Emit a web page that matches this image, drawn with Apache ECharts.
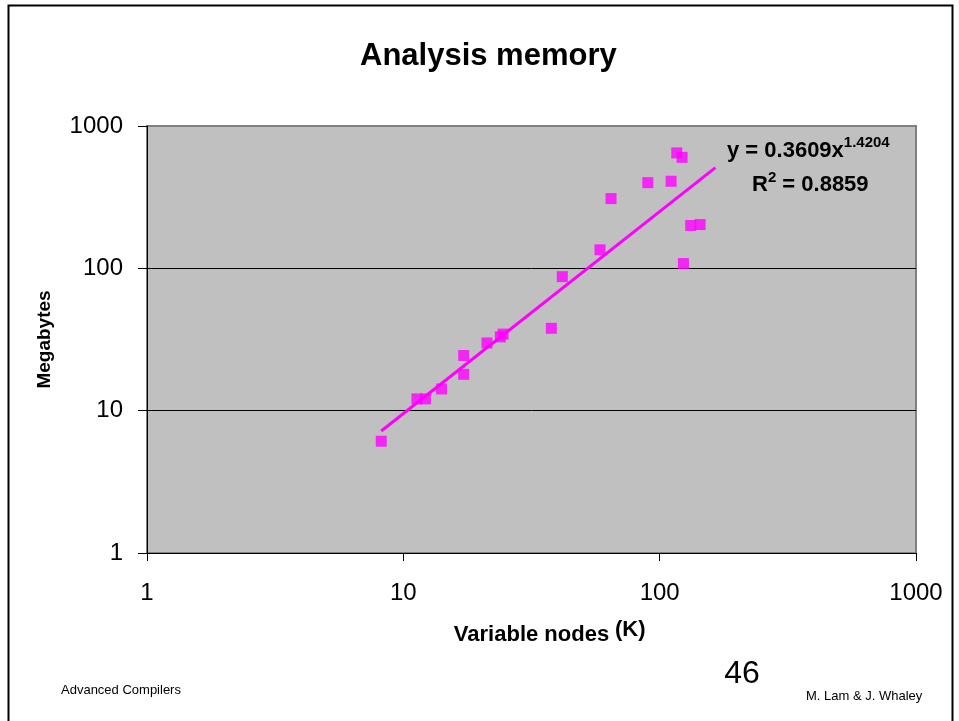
<!DOCTYPE html>
<html>
<head>
<meta charset="utf-8">
<script src="https://cdn.jsdelivr.net/npm/echarts@6/dist/echarts.min.js"></script>
<style>
html,body{margin:0;padding:0;background:#fff;}
#chart{width:959px;height:721px;}
</style>
</head>
<body>
<div id="chart"></div>
<script>
// Data
const variableNodesK = [8.2, 11.3, 12.2, 14.1, 17.2, 17.2, 21.2, 23.9, 24.5, 37.8, 41.7, 58.5, 64.6, 89.9, 110.8, 116.6, 122.3, 132.2, 143.8, 123.8];
const megabytes      = [6.1, 12.1, 12.1, 14.2, 24.4, 18.0, 29.9, 33.0, 34.5, 37.9, 87.4, 135, 309, 400, 409, 647, 602, 200, 203, 108];
// Power trendline endpoints (y = 0.3609x^1.4204)
const trendX = [8.2, 165];
const trendY = [7.2, 510];
const xTickLabels = ['1', '10', '100', '1000'];
const yTickLabels = ['1', '10', '100', '1000'];

const FONT = '"Liberation Sans", Arial, sans-serif';
const chart = echarts.init(document.getElementById('chart'));

const scatterData = variableNodesK.map((x, i) => [x, megabytes[i]]);
const trendData = trendX.map((x, i) => [x, trendY[i]]);

chart.setOption({
  backgroundColor: '#ffffff',
  animation: false,
  title: {
    text: 'Analysis memory',
    left: 355,
    top: 36,
    textStyle: { fontFamily: FONT, fontSize: 31, fontWeight: 'bold', color: '#000' }
  },
  grid: {
    left: 147, top: 126, width: 769, height: 427,
    show: true, backgroundColor: '#C0C0C0', borderColor: '#808080', borderWidth: 2
  },
  xAxis: {
    type: 'log', logBase: 10, min: 1, max: 1000,
    name: 'Variable nodes', nameLocation: 'middle', nameGap: 71,
    nameTextStyle: { fontFamily: FONT, fontSize: 22, fontWeight: 'bold', color: '#000' },
    axisLine: { show: true, lineStyle: { color: '#000', width: 1 } },
    axisTick: { show: true, length: 8, lineStyle: { color: '#000' } },
    axisLabel: {
      margin: 28, fontFamily: FONT, fontSize: 24, color: '#000',
      formatter: v => { const i = Math.round(Math.log10(v)); return xTickLabels[i] !== undefined ? xTickLabels[i] : ''; }
    },
    splitLine: { show: false },
    minorTick: { show: false }
  },
  yAxis: {
    type: 'log', logBase: 10, min: 1, max: 1000,
    name: 'Megabytes', nameLocation: 'middle', nameGap: 93, nameRotate: 90,
    nameTextStyle: { fontFamily: FONT, fontSize: 19, fontWeight: 'bold', color: '#000' },
    axisLine: { show: true, lineStyle: { color: '#000', width: 1 } },
    axisTick: { show: true, length: 9, lineStyle: { color: '#000' } },
    axisLabel: {
      margin: 24, fontFamily: FONT, fontSize: 24, color: '#000',
      formatter: v => { const i = Math.round(Math.log10(v)); return yTickLabels[i] !== undefined ? yTickLabels[i] : ''; }
    },
    splitLine: { show: true, lineStyle: { color: ['#000', '#000', '#000', '#808080'], width: 1 } }
  },
  series: [
    {
      type: 'scatter',
      data: scatterData,
      symbol: 'rect',
      symbolSize: 11,
      itemStyle: { color: '#FF00FF' }
    },
    {
      type: 'line',
      data: trendData,
      showSymbol: false,
      symbol: 'none',
      lineStyle: { color: '#FF00FF', width: 3 },
      silent: true
    }
  ],
  graphic: [
    {
      type: 'rect', left: 6, top: 3,
      shape: { width: 944, height: 740 },
      style: { fill: 'none', stroke: '#000', lineWidth: 2 },
      silent: true, z: -10
    },
    {
      type: 'text', left: 615, top: 619,
      style: { text: '(K)', font: 'bold 22px ' + FONT, fill: '#000' }
    },
    {
      type: 'text', x: 727, y: 151,
      style: {
        text: '{m|y = 0.3609x}{s|1.4204}',
        verticalAlign: 'middle',
        rich: {
          m: { fontFamily: FONT, fontSize: 22, fontWeight: 'bold', fill: '#000' },
          s: { fontFamily: FONT, fontSize: 15, fontWeight: 'bold', fill: '#000', padding: [0, 0, 16, 0] }
        }
      }
    },
    {
      type: 'text', x: 752, y: 185,
      style: {
        text: '{m|R}{s|2}{m| = 0.8859}',
        verticalAlign: 'middle',
        rich: {
          m: { fontFamily: FONT, fontSize: 22, fontWeight: 'bold', fill: '#000' },
          s: { fontFamily: FONT, fontSize: 15, fontWeight: 'bold', fill: '#000', padding: [0, 0, 14, 0] }
        }
      }
    },
    {
      type: 'text', x: 61, y: 697,
      style: { text: 'Advanced Compilers', font: '13px ' + FONT, fill: '#000', verticalAlign: 'bottom' }
    },
    {
      type: 'text', x: 742, y: 690,
      style: { text: '46', font: '32px ' + FONT, fill: '#000', align: 'center', verticalAlign: 'bottom' }
    },
    {
      type: 'text', x: 806, y: 703,
      style: { text: 'M. Lam & J. Whaley', font: '13px ' + FONT, fill: '#000', verticalAlign: 'bottom' }
    }
  ]
});
</script>
</body>
</html>
